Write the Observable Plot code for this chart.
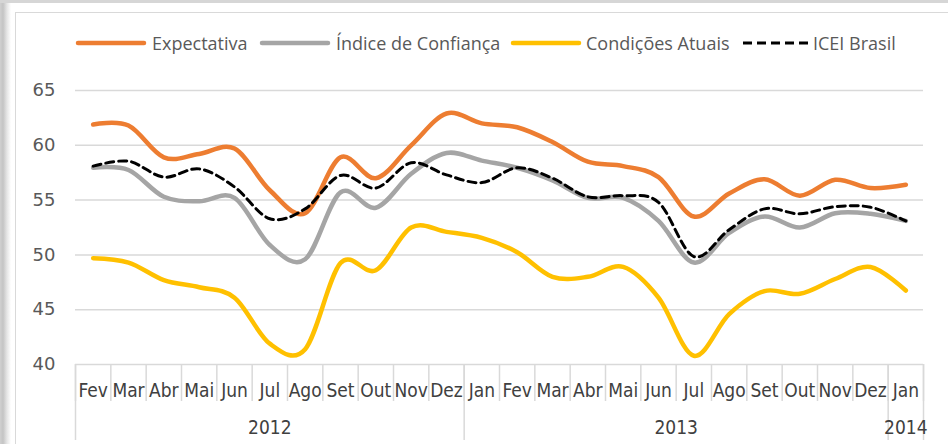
<!DOCTYPE html>
<html>
<head>
<meta charset="utf-8">
<script src="https://cdn.jsdelivr.net/npm/d3@7"></script>
<script src="https://cdn.jsdelivr.net/npm/@observablehq/plot@0.6"></script>
<style>
  html, body { margin: 0; padding: 0; background: #fff; }
  #wrap { position: relative; width: 948px; height: 444px; overflow: hidden; background: #fff; }
  #chart { position: absolute; left: 0; top: 0; }
  .topband { position: absolute; left: 0; top: 0; width: 948px; height: 3px; background: #d6d6d6; }
  .shadow { position: absolute; left: 0; top: 3px; width: 11px; height: 441px;
            background: linear-gradient(to right, #d0d0d0 0px, #c4c4c4 3px, #e6e6e6 7px, #ffffff 11px); }
  .boxtop { position: absolute; left: 15px; top: 12px; width: 933px; height: 1px; background: #d9d9d9; }
  .boxleft { position: absolute; left: 15px; top: 12px; width: 1px; height: 432px; background: #d9d9d9; }
  .legtext { position: absolute; top: 31px; font-family: "Open Sans", sans-serif; font-size: 18px;
             color: #595959; white-space: nowrap; line-height: 24px; }
  .legsw { position: absolute; top: 39px; }
</style>
</head>
<body>
<div id="wrap">
  <div id="chart"></div>
  <div class="topband"></div>
  <div class="shadow"></div>
  <div class="boxtop"></div>
  <div class="boxleft"></div>
  <div id="legend"></div>
</div>
<script>
// ---- data ----
const months = ["Fev","Mar","Abr","Mai","Jun","Jul","Ago","Set","Out","Nov","Dez","Jan",
                "Fev","Mar","Abr","Mai","Jun","Jul","Ago","Set","Out","Nov","Dez","Jan"];
const years = ["2012", "2013", "2014"];
const yearFirstIndex = [0, 11, 23];
const yearLastIndex = [10, 22, 23];
const yTicks = [40, 45, 50, 55, 60, 65];

const seriesNames = ["Expectativa", "Índice de Confiança", "Condições Atuais", "ICEI Brasil"];
const expectativa = [61.9, 61.8, 58.9, 59.2, 59.7, 55.9, 53.8, 58.9, 57.0, 60.0, 62.9, 62.0,
                     61.65, 60.3, 58.5, 58.1, 57.1, 53.5, 55.6, 56.9, 55.4, 56.85, 56.1, 56.4];
const indiceConfianca = [57.95, 57.75, 55.3, 54.9, 55.2, 50.9, 49.6, 55.7, 54.3, 57.4, 59.3, 58.6,
                         57.95, 56.8, 55.2, 55.2, 53.1, 49.3, 52.0, 53.5, 52.5, 53.8, 53.75, 53.1];
const condicoesAtuais = [49.7, 49.3, 47.7, 47.05, 46.1, 41.9, 41.4, 49.25, 48.6, 52.5, 52.1, 51.55,
                         50.25, 48.0, 48.0, 48.9, 46.1, 40.8, 44.6, 46.7, 46.45, 47.8, 48.9, 46.75];
const iceiBrasil = [58.1, 58.55, 57.1, 57.85, 56.2, 53.3, 54.2, 57.25, 56.1, 58.4, 57.3, 56.6,
                    57.95, 57.0, 55.3, 55.4, 54.8, 49.85, 52.3, 54.2, 53.75, 54.4, 54.35, 53.1];

// ---- styling ----
const colors = ["#ED7D31", "#A5A5A5", "#FFC000", "#000000"];
const widths = [4.5, 4.5, 4.5, 3];
const dashes = [null, null, null, "8,5"];
const valuesList = [expectativa, indiceConfianca, condicoesAtuais, iceiBrasil];

const rows = seriesNames.flatMap((name, k) => valuesList[k].map((v, i) => ({ i, v, name })));
const n = months.length;
const boundaries = d3.range(n + 1).map(i => i - 0.5);
const yearBoundaries = [yearFirstIndex[0] - 0.5, ...yearLastIndex.map(i => i + 0.5)];
const yearCenters = yearFirstIndex.map((f, k) => (f + yearLastIndex[k]) / 2);

const lineMarks = seriesNames.map((name, k) =>
  Plot.line(rows.filter(d => d.name === name), {
    x: "i", y: "v", curve: "cardinal",
    stroke: colors[k], strokeWidth: widths[k],
    strokeDasharray: dashes[k] || undefined,
    strokeLinecap: "round", strokeLinejoin: "round"
  })
);

const chart = Plot.plot({
  width: 948, height: 444,
  marginTop: 90, marginBottom: 80, marginLeft: 75, marginRight: 25,
  x: { type: "linear", domain: [-0.5, n - 0.5], axis: null, label: null },
  y: { domain: [40, 65], axis: null, label: null },
  style: { background: "transparent", fontFamily: "'Liberation Sans Narrow', 'DejaVu Sans Condensed', sans-serif" },
  marks: [
    Plot.gridY({ ticks: yTicks, stroke: "#d9d9d9", strokeOpacity: 1, strokeWidth: 1.5 }),
    Plot.axisY({ ticks: yTicks, tickSize: 0, tickPadding: 20, fontSize: 18, label: null,
                 fill: "#595959", fontFamily: "DejaVu Sans", tickFormat: d => String(d) }),
    Plot.axisX({ ticks: boundaries, tickSize: 37, tickFormat: () => "", label: null,
                 stroke: "#d9d9d9", strokeWidth: 1.5, strokeOpacity: 1 }),
    Plot.axisX({ ticks: yearBoundaries, tickSize: 76, tickFormat: () => "", label: null,
                 stroke: "#d9d9d9", strokeWidth: 1.5, strokeOpacity: 1 }),
    Plot.axisX({ ticks: d3.range(n), tickSize: 0, tickPadding: 19, fontSize: 19, label: null,
                 fill: "#404040", tickFormat: i => months[i] }),
    Plot.axisX({ ticks: yearCenters, tickSize: 0, tickPadding: 56, fontSize: 19, label: null,
                 fill: "#404040", tickFormat: c => years[yearCenters.indexOf(c)] }),
    ...lineMarks
  ]
});
document.getElementById("chart").appendChild(chart);

// ---- legend (HTML, above the plot area) ----
const legSwatchX = [76, 260, 511, 741];
const legTextX = [152, 336, 586, 813];
const legend = document.getElementById("legend");
seriesNames.forEach((name, k) => {
  const sw = document.createElementNS("http://www.w3.org/2000/svg", "svg");
  sw.setAttribute("width", 72); sw.setAttribute("height", 8);
  sw.setAttribute("class", "legsw");
  sw.style.left = (legSwatchX[k] - 1) + "px";
  const ln = document.createElementNS("http://www.w3.org/2000/svg", "line");
  ln.setAttribute("x1", 3); ln.setAttribute("x2", 69); ln.setAttribute("y1", 4); ln.setAttribute("y2", 4);
  ln.setAttribute("stroke", colors[k]); ln.setAttribute("stroke-width", widths[k]);
  ln.setAttribute("stroke-linecap", dashes[k] ? "butt" : "round");
  if (dashes[k]) ln.setAttribute("stroke-dasharray", "9,5");
  sw.appendChild(ln);
  legend.appendChild(sw);
  const tx = document.createElement("div");
  tx.className = "legtext";
  tx.style.left = legTextX[k] + "px";
  tx.textContent = name;
  legend.appendChild(tx);
});
</script>
</body>
</html>
